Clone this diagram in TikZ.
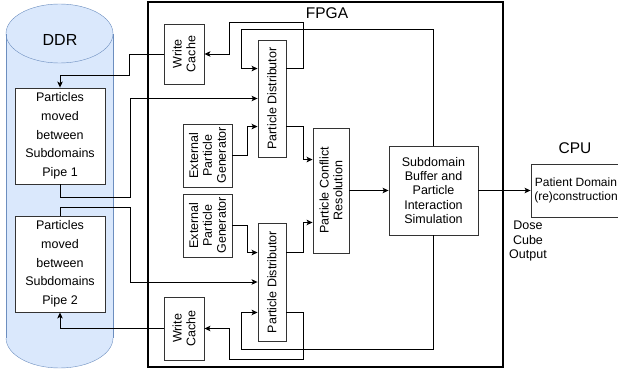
\documentclass[tikz,border=0pt]{standalone}
\usepackage{fontspec}
\setmainfont{Liberation Sans}
\usetikzlibrary{arrows.meta,positioning,calc}
\definecolor{ddrfill}{RGB}{218,232,252}
\definecolor{ddrline}{RGB}{108,142,191}
\definecolor{boxline}{RGB}{51,51,51}
\colorlet{wireink}{black}

\begin{document}
\begin{tikzpicture}[
  x=1pt, y=-1pt,
  font=\fontsize{12.5}{14.2}\selectfont,
  box/.style={draw=boxline, line width=0.9pt, fill=white, inner sep=0pt, align=center},
  vbox/.style={box, label={[rotate=90, align=center, font=\fontsize{12.5}{13.8}\selectfont]center:#1}},
  link/.style={draw=wireink, line width=0.9pt, -{Stealth[length=6pt,width=5.5pt,inset=1.5pt]}},
]
  \useasboundingbox (0,0) rectangle (618,372);
  \clip (0,0) rectangle (618,372);

  % DDR cylinder
  \fill[ddrfill] (6,33.5) rectangle (113,338);
  \fill[ddrfill] (59.5,338) ellipse [x radius=53.5, y radius=30];
  \filldraw[fill=ddrfill, draw=ddrline] (59.5,33.5) ellipse [x radius=53.5, y radius=29.5];
  \draw[ddrline] (6,33.5) -- (6,338) (113,33.5) -- (113,338);
  \begin{scope}
    \clip (0,338) rectangle (120,372);
    \draw[ddrline] (59.5,338) ellipse [x radius=53.5, y radius=30];
  \end{scope}
  \node[font=\fontsize{16}{18}\selectfont] (ddr) at (60,40) {DDR};

  \node[box, minimum width=90, minimum height=96, font=\fontsize{12.5}{18.7}\selectfont]
    (pipe1) at (60,136) {Particles\\moved\\between\\Subdomains\\Pipe 1};
  \node[box, minimum width=90, minimum height=96, font=\fontsize{12.5}{18.7}\selectfont]
    (pipe2) at (60,264) {Particles\\moved\\between\\Subdomains\\Pipe 2};

  % FPGA
  \node[draw, line width=2pt, inner sep=0pt, minimum width=355, minimum height=365]
    (fpga) at (325.5,184.5) {};
  \node[font=\fontsize{15.5}{17}\selectfont] (fpgalabel) at (327,13) {FPGA};

  \node[vbox={Write\\Cache}, minimum width=40, minimum height=60] (wc1) at (184,54) {};
  \node[vbox={Write\\Cache}, minimum width=40, minimum height=63] (wc2) at (184,328.5) {};
  \node[vbox={Particle Distributor}, minimum width=28, minimum height=117] (pd1) at (272,98.5) {};
  \node[vbox={Particle Distributor}, minimum width=28, minimum height=118] (pd2) at (272,282) {};
  \node[vbox={External\\Particle\\Generator}, minimum width=49, minimum height=63] (epg1) at (207.5,155.5) {};
  \node[vbox={External\\Particle\\Generator}, minimum width=49, minimum height=63] (epg2) at (207.5,225.5) {};
  \node[vbox={Particle Conflict\\Resolution}, minimum width=36, minimum height=125] (pcr) at (331,190.5) {};
  \node[box, minimum width=89, minimum height=89] (sb) at (433.5,190.5)
    {Subdomain\\Buffer and\\Particle\\Interaction\\Simulation};

  % CPU
  \node[font=\fontsize{15.5}{17}\selectfont] (cpulabel) at (575,148) {CPU};
  \node[box, minimum width=90, minimum height=53, font=\fontsize{12}{14}\selectfont] (pdr) at (576,190.5)
    {Patient Domain\\(re)construction};
  \node[align=center] (dose) at (528,241) {Dose\\Cube\\Output};

  % pipe 1 side
  \draw[link] (wc1.west) -- ++(-34,0) |- (60,75) -- (pipe1.north);
  \draw[link] (pipe1.south) |- (130,197) |- (pd1.west);
  \draw[link] ($(pd1.north east)+(0,29)$) -| (303,22) -| ($(wc1.east)+(25,0)$) -- (wc1.east);
  \draw[link] (sb.north) |- (241,29) |- ($(pd1.north west)+(0,29)$);
  \draw[link] (epg1.east) -- ++(15,0) |- ($(pd1.north west)+(0,87)$);
  \draw[link] ($(pd1.north east)+(0,87)$) -- ++(17,0) |- ($(pcr.north west)+(0,32)$);

  % pipe 2 side
  \draw[link] (epg2.east) -- ++(15,0) |- ($(pd2.north west)+(0,30)$);
  \draw[link] ($(pd2.north east)+(0,30)$) -- ++(17,0) |- ($(pcr.south west)+(0,-31)$);
  \draw[link] (pipe2.north) |- (130,207) |- (pd2.west);
  \draw[link] ($(pd2.south east)+(0,-29)$) -| (303,359) -| ($(wc2.east)+(25,0)$) -- (wc2.east);
  \draw[link] (sb.south) |- (241,349) |- ($(pd2.south west)+(0,-29)$);
  \draw[link] (wc2.west) -| (pipe2.south);

  % main flow
  \draw[link] (pcr.east) -- (sb.west);
  \draw[link] (sb.east) -- (pdr.west);
\end{tikzpicture}
\end{document}
